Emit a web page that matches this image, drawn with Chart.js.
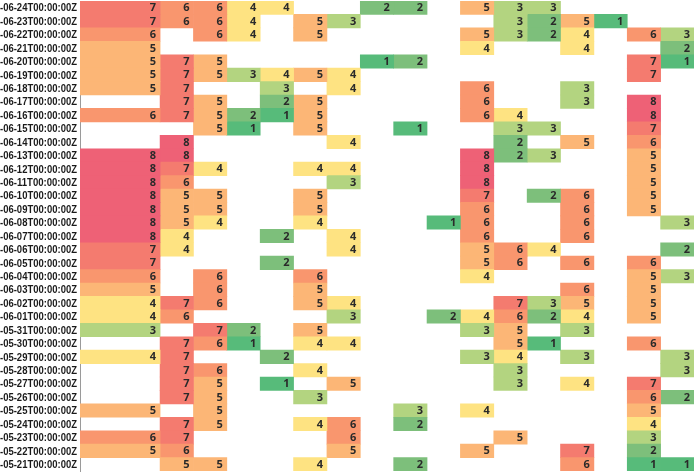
<!DOCTYPE html>
<html>
<head>
<meta charset="utf-8">
<script src="https://cdn.jsdelivr.net/npm/chart.js@4"></script>
<style>
  html, body { margin: 0; padding: 0; background: #fff; overflow: hidden; }
  #wrap { width: 694px; height: 474px; }
</style>
</head>
<body>
<div id="wrap"><canvas id="heat"></canvas></div>
<script>
// Rows (dates, top to bottom)
const rowLabels = [
  '-06-24T00:00:00Z', '-06-23T00:00:00Z', '-06-22T00:00:00Z', '-06-21T00:00:00Z', '-06-20T00:00:00Z',
  '-06-19T00:00:00Z', '-06-18T00:00:00Z', '-06-17T00:00:00Z', '-06-16T00:00:00Z', '-06-15T00:00:00Z',
  '-06-14T00:00:00Z', '-06-13T00:00:00Z', '-06-12T00:00:00Z', '-06-11T00:00:00Z', '-06-10T00:00:00Z',
  '-06-09T00:00:00Z', '-06-08T00:00:00Z', '-06-07T00:00:00Z', '-06-06T00:00:00Z', '-06-05T00:00:00Z',
  '-06-04T00:00:00Z', '-06-03T00:00:00Z', '-06-02T00:00:00Z', '-06-01T00:00:00Z', '-05-31T00:00:00Z',
  '-05-30T00:00:00Z', '-05-29T00:00:00Z', '-05-28T00:00:00Z', '-05-27T00:00:00Z', '-05-26T00:00:00Z',
  '-05-25T00:00:00Z', '-05-24T00:00:00Z', '-05-23T00:00:00Z', '-05-22T00:00:00Z', '-05-21T00:00:00Z'
];

// One array per column, values per row (null = empty cell)
const _ = null;
const col0  = [7,7,6,5,5,5,5,_,6,_,_,8,8,8,8,8,8,8,7,7,6,5,4,4,3,_,4,_,_,_,5,_,6,5,_];
const col1  = [6,6,_,_,7,7,7,7,7,_,8,8,7,6,5,5,5,4,4,_,_,_,7,6,_,7,7,7,7,7,_,7,7,6,5];
const col2  = [6,6,6,_,5,5,_,5,5,5,_,_,4,_,5,5,4,_,_,_,6,6,6,_,7,6,_,6,5,5,5,5,_,_,5];
const col3  = [4,4,4,_,_,3,_,_,2,1,_,_,_,_,_,_,_,_,_,_,_,_,_,_,2,1,_,_,_,_,_,_,_,_,_];
const col4  = [4,_,_,_,_,4,3,2,1,_,_,_,_,_,_,_,_,2,_,2,_,_,_,_,_,_,2,_,1,_,_,_,_,_,_];
const col5  = [_,5,5,_,_,5,_,5,5,5,_,_,4,_,5,5,4,_,_,_,6,5,5,_,5,4,_,4,_,3,_,4,_,_,4];
const col6  = [_,3,_,_,_,4,4,_,_,_,4,_,4,3,_,_,_,4,4,_,_,_,4,3,_,4,_,_,5,_,_,6,6,5,_];
const col7  = [2,_,_,_,1,_,_,_,_,_,_,_,_,_,_,_,_,_,_,_,_,_,_,_,_,_,_,_,_,_,_,_,_,_,_];
const col8  = [2,_,_,_,2,_,_,_,_,1,_,_,_,_,_,_,_,_,_,_,_,_,_,_,_,_,_,_,_,_,3,2,_,_,2];
const col9  = [_,_,_,_,_,_,_,_,_,_,_,_,_,_,_,_,1,_,_,_,_,_,_,2,_,_,_,_,_,_,_,_,_,_,_];
const col10 = [5,_,5,4,_,_,6,6,6,_,_,8,8,8,7,6,6,6,5,5,4,_,_,4,3,_,3,_,_,_,4,_,_,5,_];
const col11 = [3,3,3,_,_,_,_,_,4,3,2,2,_,_,_,_,_,_,6,6,_,_,7,6,5,5,4,3,3,_,_,_,5,_,_];
const col12 = [3,2,2,_,_,_,_,_,_,3,_,3,_,_,2,_,_,_,4,_,_,_,3,2,_,1,_,_,_,_,_,_,_,_,_];
const col13 = [_,5,4,4,_,_,3,3,_,_,5,_,_,_,6,6,6,6,_,6,_,6,5,4,3,_,3,_,4,_,_,_,_,7,6];
const col14 = [_,1,_,_,_,_,_,_,_,_,_,_,_,_,_,_,_,_,_,_,_,_,_,_,_,_,_,_,_,_,_,_,_,_,_];
const col15 = [_,_,6,_,7,7,_,8,8,7,6,5,5,5,5,5,_,_,_,6,5,5,5,5,_,6,_,_,7,6,5,4,3,2,1];
const col16 = [_,_,3,2,1,_,_,_,_,_,_,_,_,_,_,_,3,_,2,_,3,_,_,_,_,_,3,3,_,2,_,_,_,_,1];

const columns = [col0, col1, col2, col3, col4, col5, col6, col7, col8, col9,
                 col10, col11, col12, col13, col14, col15, col16];

// colour scale, value 1..8
const scaleColors = ['#57bb7a', '#7dbf7b', '#b3d480', '#fee382', '#fcb676', '#f9966e', '#f47b6f', '#ee6176'];

// first column is wider than the others
const firstWidth = 2.4;
function colStart(i) { return i === 0 ? 0 : firstWidth + (i - 1); }
function colEnd(i) { return i === 0 ? firstWidth : firstWidth + i; }

const datasets = columns.map((vals, i) => ({
  data: vals.map(v => v === null ? null : [colStart(i), colEnd(i)]),
  values: vals,
  backgroundColor: vals.map(v => v === null ? 'transparent' : scaleColors[v - 1]),
  borderWidth: 0,
  grouped: false,
  barPercentage: 1,
  categoryPercentage: 1
}));

// cell numbers plus condensed row labels (fillText maxWidth squeezes them)
const textLayer = {
  id: 'textLayer',
  afterDatasetsDraw(chart) {
    const ctx = chart.ctx;
    ctx.save();
    ctx.font = 'bold 11px "Open Sans", sans-serif';
    ctx.fillStyle = '#2a2a2a';
    ctx.textAlign = 'right';
    ctx.textBaseline = 'middle';
    chart.data.datasets.forEach((ds, di) => {
      const meta = chart.getDatasetMeta(di);
      meta.data.forEach((bar, j) => {
        const v = ds.values[j];
        if (v === null) return;
        ctx.fillText(String(v), bar.x - 4, bar.y + 0.5);
      });
    });
    const y = chart.scales.y;
    ctx.font = 'bold 11.5px "Liberation Sans", sans-serif';
    ctx.fillStyle = '#1a1a1a';
    ctx.textAlign = 'left';
    chart.data.labels.forEach((lab, j) => {
      ctx.fillText(lab, 0, y.getPixelForValue(j) + 0.5, 77);
    });
    ctx.restore();
  }
};

new Chart(document.getElementById('heat'), {
  type: 'bar',
  data: { labels: rowLabels, datasets: datasets },
  options: {
    indexAxis: 'y',
    responsive: true,
    maintainAspectRatio: false,
    animation: false,
    layout: { padding: { top: 1, bottom: 3, left: 0, right: 0 } },
    plugins: { legend: { display: false }, tooltip: { enabled: false } },
    scales: {
      x: {
        type: 'linear', min: 0, max: firstWidth + 16, display: false
      },
      y: {
        grid: { display: false, drawTicks: false },
        border: { display: true, color: '#9a9a9a', width: 1 },
        afterFit(scale) { scale.width = 80; },
        ticks: { display: false, autoSkip: false }
      }
    }
  },
  plugins: [textLayer]
});
</script>
</body>
</html>
